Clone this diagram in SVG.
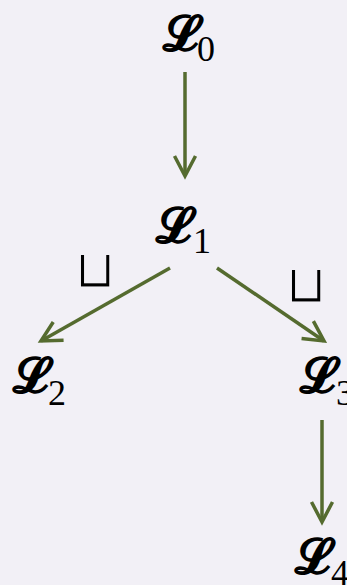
<svg xmlns="http://www.w3.org/2000/svg" width="347" height="585" viewBox="0 0 347 585">
<style>
.L{font-family:"DejaVu Serif","Liberation Serif",serif;font-size:48px;font-weight:bold;fill:#000}
.s{font-family:"Liberation Serif","DejaVu Serif",serif;font-size:36px;fill:#000}
.cup{font-family:"DejaVu Sans","Liberation Sans",sans-serif;font-size:52px;fill:#000;stroke:#f2f0f6;stroke-width:1.2}
.e{stroke:#556b2f;stroke-width:3.5;fill:none}
</style>
<defs>
<marker id="ah" markerUnits="userSpaceOnUse" markerWidth="30" markerHeight="30" viewBox="-25 -15 30 30" refX="0" refY="0" orient="auto">
<path d="M-20,-10.5 L0,0 L-20,10.5" fill="none" stroke="#556b2f" stroke-width="3.5"/>
</marker>
</defs>
<rect width="347" height="585" fill="#f2f0f6"/>
<g id="edges">
<line class="e" x1="185" y1="72" x2="185" y2="176" marker-end="url(#ah)"/>
<line class="e" x1="170" y1="268" x2="41" y2="341" marker-end="url(#ah)"/>
<line class="e" x1="217" y1="268" x2="324" y2="341" marker-end="url(#ah)"/>
<line class="e" x1="322" y1="420" x2="322" y2="522" marker-end="url(#ah)"/>
<text class="cup" x="95" y="287" text-anchor="middle">⊔</text>
<text class="cup" x="306" y="302" text-anchor="middle">⊔</text>
</g>
<g id="L0"><text class="L" x="163" y="50">𝓛</text><text class="s" x="197" y="61">0</text></g>
<g id="L1"><text class="L" x="156" y="242">𝓛</text><text class="s" x="193" y="253">1</text></g>
<g id="L2"><text class="L" x="13" y="392">𝓛</text><text class="s" x="48" y="405">2</text></g>
<g id="L3"><text class="L" x="300" y="392">𝓛</text><text class="s" x="336" y="405">3</text></g>
<g id="L4"><text class="L" x="295" y="573">𝓛</text><text class="s" x="331" y="585">4</text></g>
</svg>
